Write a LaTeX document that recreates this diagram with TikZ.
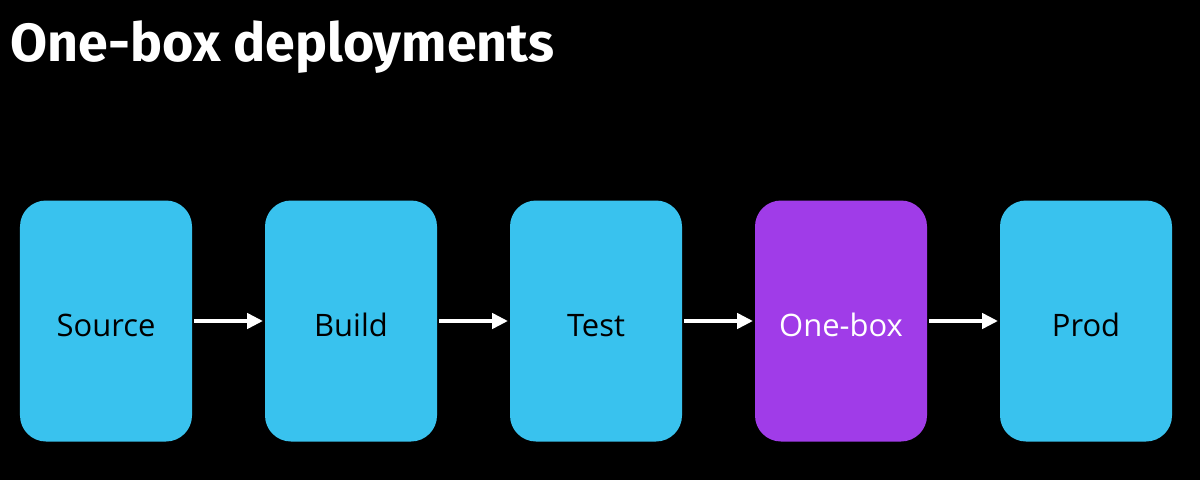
\documentclass[tikz,border=0pt]{standalone}
\usepackage{fontspec}
\setmainfont{Open Sans}
\newfontfamily\titlefont{Fira Sans}
\usetikzlibrary{arrows.meta,positioning}
\definecolor{stagecyan}{RGB}{57,194,238}
\definecolor{stagepurple}{RGB}{160,60,232}

\begin{document}
\begin{tikzpicture}[->,>={Triangle[length=0.4cm,width=0.38cm]},line width=0.1cm,node distance=6.125cm,white]
  \tikzstyle{stage}=[fill=stagecyan,draw=none,rounded corners=0.65cm,minimum width=4.3cm,minimum height=6.025cm,text=black,text height=0.76cm,text depth=0cm,font=\fontsize{22}{26}\selectfont]
  \fill[black] (0,0) rectangle (30,12);
  \useasboundingbox (0,0) rectangle (30,12);

  \node[anchor=base west,text=white,inner sep=0pt,font=\titlefont\bfseries\fontsize{38.2}{46}\selectfont] (title) at (0.22,10.45) {One-box deployments};

  \node[stage] (src) at (2.65,3.975) {Source};
  \node[stage] (bld) [right of=src] {Build};
  \node[stage] (tst) [right of=bld] {Test};
  \node[stage,fill=stagepurple,text=white] (one) [right of=tst] {One-box};
  \node[stage] (prd) [right of=one] {Prod};

  \path
  (src) edge (bld)
  (bld) edge (tst)
  (tst) edge (one)
  (one) edge (prd);
\end{tikzpicture}
\end{document}
